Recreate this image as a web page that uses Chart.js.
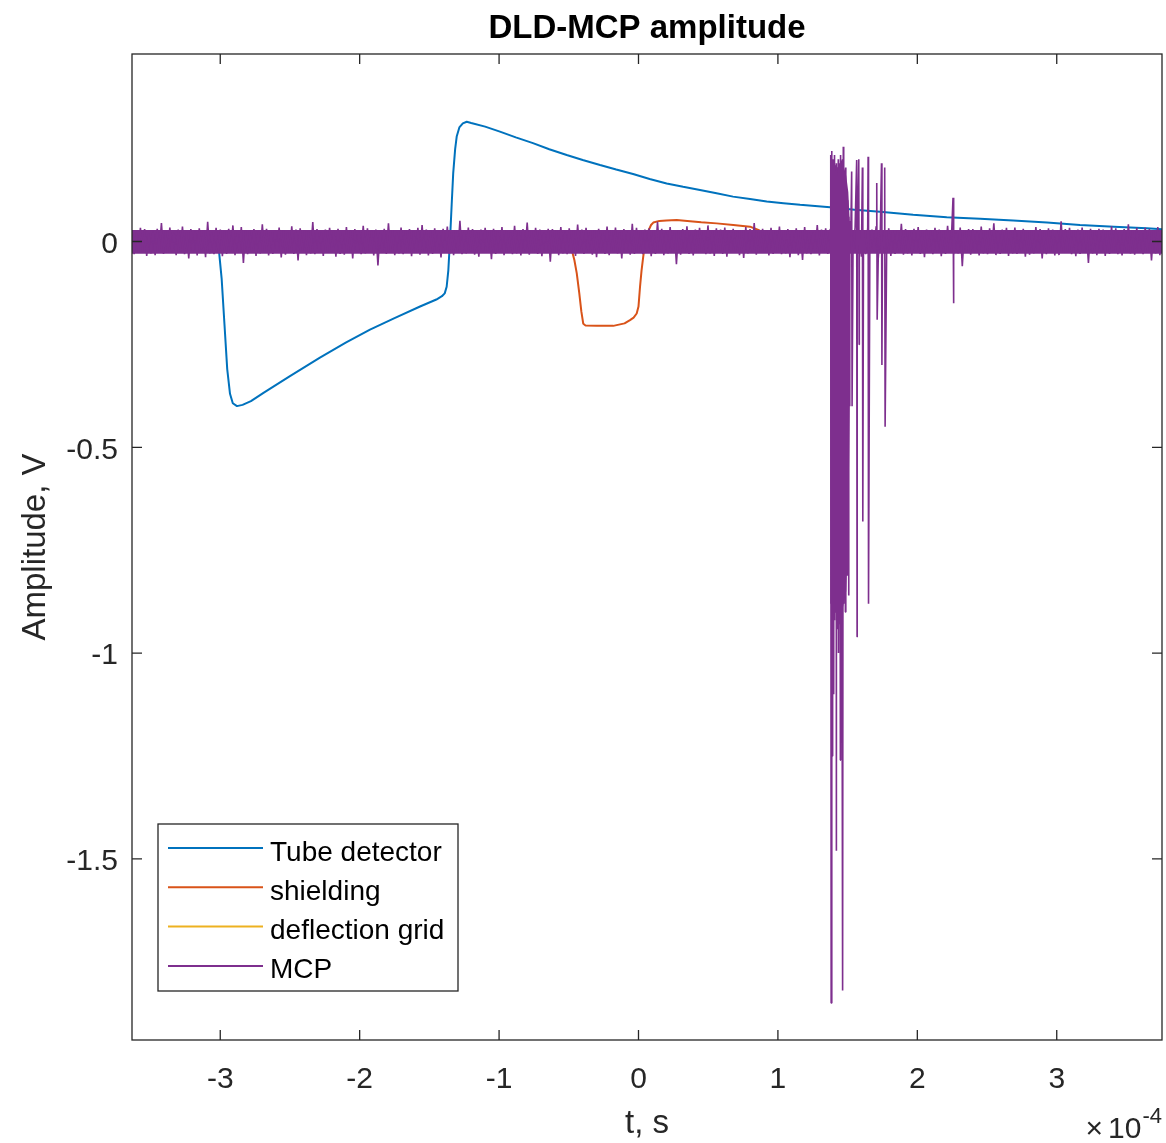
<!DOCTYPE html>
<html>
<head>
<meta charset="utf-8">
<title>DLD-MCP amplitude</title>
<script src="https://cdn.jsdelivr.net/npm/chart.js@4.4.1/dist/chart.umd.min.js"></script>
<style>
  html, body { margin: 0; padding: 0; background: #fff; }
  #wrap { width: 1166px; height: 1143px; }
</style>
</head>
<body>
<div id="wrap"><canvas id="chart" width="1166" height="1143"></canvas></div>
<script>
// time axis is in units of 1e-4 s (the "x10^-4" multiplier), amplitude in V
const xTicks = [-3, -2, -1, 0, 1, 2, 3];
const yTicks = [-1.5, -1, -0.5, 0];
const seriesNames = ['Tube detector', 'shielding', 'deflection grid', 'MCP'];
const seriesColors = ['#0072BD', '#D95319', '#EDB120', '#7E2F8E'];

const tubeT = [-3.633, -3.03, -3.01, -2.99, -2.97, -2.95, -2.93, -2.91, -2.88, -2.84, -2.78, -2.69, -2.5, -2.285,
  -2.1, -1.926, -1.75, -1.567, -1.45, -1.41, -1.39, -1.376, -1.364, -1.352, -1.34, -1.329, -1.315, -1.304, -1.285,
  -1.26, -1.232, -1.2, -1.1, -0.994, -0.88, -0.757, -0.64, -0.515, -0.4, -0.276, -0.16, -0.039, 0.08, 0.202, 0.32,
  0.441, 0.56, 0.678, 0.8, 0.92, 1.04, 1.159, 1.374, 1.55, 1.732, 1.97, 2.211, 2.45, 2.687, 2.93, 3.167, 3.41, 3.646, 3.755];
const tubeV = [0, 0, -0.02, -0.09, -0.2, -0.31, -0.37, -0.393, -0.4, -0.397, -0.388, -0.368, -0.327, -0.282,
  -0.246, -0.214, -0.186, -0.158, -0.141, -0.133, -0.126, -0.11, -0.07, 0.004, 0.09, 0.166, 0.225, 0.255, 0.277,
  0.287, 0.291, 0.288, 0.279, 0.267, 0.253, 0.239, 0.224, 0.21, 0.198, 0.186, 0.175, 0.164, 0.152, 0.141, 0.133,
  0.125, 0.117, 0.109, 0.103, 0.097, 0.093, 0.089, 0.083, 0.077, 0.072, 0.065, 0.059, 0.055, 0.051, 0.046, 0.04, 0.036, 0.032, 0.03];

const shieldT = [-3.633, -0.5, -0.479, -0.46, -0.443, -0.425, -0.41, -0.396, -0.38, -0.3, -0.181, -0.1, -0.061,
  -0.035, -0.013, 0.0, 0.011, 0.022, 0.034, 0.05, 0.07, 0.09, 0.106, 0.15, 0.2, 0.274, 0.35, 0.45, 0.561, 0.68,
  0.8, 0.86, 0.92, 1.0, 3.755];
const shieldV = [0, 0, -0.02, -0.045, -0.077, -0.125, -0.17, -0.2, -0.204, -0.205, -0.205, -0.199, -0.191,
  -0.185, -0.175, -0.158, -0.11, -0.07, -0.037, 0.0, 0.025, 0.04, 0.046, 0.05, 0.051, 0.052, 0.05, 0.047, 0.044, 0.04,
  0.036, 0.028, 0.015, 0.003, 0];

const gridT = [-3.633, -0.5, 0.0, 3.755];
const gridV = [0.002, 0.004, 0.006, 0.002];

// MCP baseline noise, mV, sampled evenly from mcpStart to mcpEnd
const mcpStart = -3.633;
const mcpEnd = 3.755;
const mcpNoise_mV = [
  28,-31,22,-27,33,-24,30,-35,19,-29,26,-33,31,-22,45,-30,24,-28,34,-26,
  21,-33,29,-25,36,-31,23,-41,30,-27,25,-34,32,-20,27,-38,48,-29,22,-31,
  33,-26,29,-36,24,-30,31,-24,39,-33,20,-28,35,-52,27,-31,26,-23,30,-35,
  25,-29,42,-27,31,-34,23,-30,28,-25,34,-39,26,-32,21,-28,37,-30,29,-46,
  32,-23,27,-33,24,-29,47,-31,30,-26,22,-35,29,-27,33,-24,26,-37,31,-30,
  23,-32,35,-28,27,-41,30,-25,24,-31,38,-29,32,-23,26,-34,29,-58,25,-27,
  31,-30,44,-26,28,-33,22,-29,34,-31,27,-24,30,-36,25,-28,33,-32,40,-25,
  29,-34,26,-30,32,-23,24,-39,31,-27,36,-30,23,-33,28,-26,50,-31,27,-29,
  34,-25,30,-32,21,-37,29,-28,33,-24,26,-43,31,-30,24,-27,35,-33,28,-26,
  22,-31,38,-29,27,-34,30,-25,46,-32,25,-28,33,-30,29,-36,23,-27,31,-49,
  30,-26,28,-33,35,-29,24,-31,32,-27,26,-35,41,-24,29,-30,33,-28,25,-32,
  27,-38,31,-25,23,-30,36,-33,28,-26,34,-29,22,-41,30,-27,26,-32,43,-30,
  33,-28,25,-31,29,-24,32,-36,27,-30,48,-25,31,-33,24,-29,35,-27,28,-55,
  26,-32,30,-27,37,-30,23,-34,29,-28,33,-26,25,-31,39,-29,27,-35,32,-24,
  29,-30,34,-37,26,-28,31,-25,24,-33,28,-40,35,-29,30,-26,45,-32,23,-28,
  31,-27,26,-34,33,-30,28,-24,36,-31,25,-29,30,-38,27,-26,32,-33,24,-45,
  35,-29,27,-31,23,-28,40,-34,29,-25,32,-30,26,-36,31,-27,28,-32,47,-30,
  24,-33,30,-26,34,-29,27,-37,25,-31,33,-28,29,-24,36,-42,28,-30,25,-27,
  32,-35,28,-30,26,-27,43,-32,30,-29,24,-34,31,-26,35,-30,27,-38,29,-25,
  26,-31,33,-28,29,-36,25,-30,38,-27,31,-33,23,-29,34,-60,28,-26,30,-32,
  30,-28,24,-34,36,-29,27,-31,32,-25,44,-33,26,-30,29,-27,33,-35,25,-29,
  34,-30,28,-26,31,-37,23,-32,27,-29,35,-28,30,-41,26,-31,32,-27,29,-34,
  27,-33,49,-28,30,-25,33,-31,26,-36,29,-30,34,-27,24,-52,31,-29,28,-33,
  31,-26,29,-35,25,-30,37,-28,32,-31,27,-34,30,-25,42,-29,26,-32,33,-28,
  28,-31,33,-27,30,-46,26,-29,35,-33,24
];

// MCP discharge burst and single spikes, V
const burstT = [1.376, 1.379, 1.382, 1.385, 1.388, 1.391, 1.394, 1.397, 1.4, 1.403, 1.406, 1.409, 1.412, 1.415,
  1.418, 1.421, 1.424, 1.427, 1.43, 1.433, 1.436, 1.439, 1.442, 1.445, 1.448, 1.451, 1.454, 1.457, 1.46, 1.463,
  1.466, 1.469, 1.472, 1.475, 1.478, 1.481, 1.484, 1.487, 1.49, 1.493, 1.496, 1.499, 1.502, 1.505, 1.508, 1.511,
  1.514, 1.517,
  1.529, 1.532, 1.565, 1.568, 1.58, 1.583, 1.606, 1.609, 1.647, 1.65, 1.709, 1.712, 1.743, 1.746, 1.766, 1.769,
  2.256, 2.259];
const burstV = [0.03, 0.21, -1.85, 0.22, -1.25, 0.19, -0.95, 0.2, -1.1, 0.18, -0.92, 0.21, -0.9, 0.17,
  -1.48, 0.19, -0.94, 0.16, -0.88, 0.2, -1.0, 0.18, -0.93, 0.19, -1.26, 0.21, -0.9, 0.18, -0.95, 0.2,
  -1.82, 0.23, -0.88, 0.17, -0.85, 0.16, -0.9, 0.18, -0.65, 0.12, -0.81, 0.1, -0.55, 0.06, -0.86, 0.05,
  -0.4, 0.03,
  0.17, -0.4, 0.198, -0.96, 0.2, -0.25, 0.18, -0.68, 0.206, -0.88, 0.142, -0.19, 0.19, -0.3, 0.18, -0.45,
  0.106, -0.15];

// dense core of the MCP trace (envelope that is fully inked in the picture), V
const coreT  = [-3.633, 1.374, 1.377, 1.38, 1.4, 1.43, 1.46, 1.49, 1.505, 1.515, 1.518, 3.755];
const coreHi = [0.028, 0.028, 0.15, 0.17, 0.19, 0.18, 0.2, 0.16, 0.12, 0.05, 0.028, 0.028];
const coreLo = [-0.03, -0.03, -0.8, -0.88, -0.9, -0.88, -0.9, -0.85, -0.7, -0.4, -0.03, -0.03];

const pairs = (ts, vs) => ts.map((t, i) => ({ x: t, y: vs[i] }));

const dt = (mcpEnd - mcpStart) / (mcpNoise_mV.length - 1);
const mcpData = mcpNoise_mV.map((v, i) => ({ x: mcpStart + i * dt, y: v / 1000 }))
  .concat(pairs(burstT, burstV))
  .sort((a, b) => a.x - b.x);

const FONT = '"Liberation Sans", Arial, Helvetica, sans-serif';
const INK = '#262626';

// box, inward ticks on all four sides, legend, title and labels (MATLAB look)
const matlabAxes = {
  id: 'matlabAxes',
  afterDatasetsDraw(chart) {
    const { ctx, chartArea: a, scales: { x, y } } = chart;
    ctx.save();
    ctx.strokeStyle = INK;
    ctx.lineWidth = 1.3;
    ctx.strokeRect(a.left, a.top, a.right - a.left, a.bottom - a.top);
    ctx.beginPath();
    xTicks.forEach(v => {
      const px = x.getPixelForValue(v);
      ctx.moveTo(px, a.bottom); ctx.lineTo(px, a.bottom - 10);
      ctx.moveTo(px, a.top); ctx.lineTo(px, a.top + 10);
    });
    yTicks.forEach(v => {
      const py = y.getPixelForValue(v);
      ctx.moveTo(a.left, py); ctx.lineTo(a.left + 10, py);
      ctx.moveTo(a.right, py); ctx.lineTo(a.right - 10, py);
    });
    ctx.stroke();

    // legend, lower left inside the axes
    const lx = a.left + 26, ly = a.bottom - 216, lw = 300, lh = 167;
    ctx.fillStyle = '#fff';
    ctx.fillRect(lx, ly, lw, lh);
    ctx.lineWidth = 1.3;
    ctx.strokeStyle = INK;
    ctx.strokeRect(lx, ly, lw, lh);
    ctx.font = '28px ' + FONT;
    ctx.textBaseline = 'alphabetic';
    ctx.textAlign = 'left';
    chart.data.datasets.slice(0, seriesNames.length).forEach((ds, i) => {
      const ry = ly + 24 + i * 39.3;
      ctx.strokeStyle = ds.borderColor;
      ctx.lineWidth = 2;
      ctx.beginPath();
      ctx.moveTo(lx + 10, ry); ctx.lineTo(lx + 105, ry);
      ctx.stroke();
      ctx.fillStyle = '#000';
      ctx.fillText(ds.label, lx + 112, ry + 12.5);
    });
    ctx.restore();
  },
  afterDraw(chart) {
    const { ctx, chartArea: a } = chart;
    const cx = (a.left + a.right) / 2;
    ctx.save();
    ctx.fillStyle = '#000';
    ctx.textAlign = 'center';
    ctx.textBaseline = 'alphabetic';
    ctx.font = 'bold 33px ' + FONT;
    ctx.fillText('DLD-MCP amplitude', cx, 38);

    ctx.fillStyle = INK;
    ctx.font = '33px ' + FONT;
    ctx.fillText('t, s', cx, 1133);

    ctx.save();
    ctx.translate(45, (a.top + a.bottom) / 2);
    ctx.rotate(-Math.PI / 2);
    ctx.fillText('Amplitude, V', 0, 0);
    ctx.restore();

    // exponent multiplier for the time axis
    ctx.textAlign = 'left';
    ctx.font = '30px ' + FONT;
    const wTen = ctx.measureText('10').width;
    ctx.font = '22px ' + FONT;
    const wExp = ctx.measureText('-4').width;
    let xr = a.right - wExp;
    ctx.fillText('-4', xr, 1123);
    ctx.font = '30px ' + FONT;
    xr -= wTen + 1;
    ctx.fillText('10', xr, 1138);
    const wx = ctx.measureText('\u00d7').width;
    ctx.fillText('\u00d7', xr - wx - 5, 1138);
    ctx.restore();
  }
};

const hidden = 'rgba(0,0,0,0)';

new Chart(document.getElementById('chart'), {
  type: 'line',
  data: {
    datasets: [
      { label: seriesNames[0], data: pairs(tubeT, tubeV), borderColor: seriesColors[0], borderWidth: 2, order: 5 },
      { label: seriesNames[1], data: pairs(shieldT, shieldV), borderColor: seriesColors[1], borderWidth: 2, order: 4 },
      { label: seriesNames[2], data: pairs(gridT, gridV), borderColor: seriesColors[2], borderWidth: 2, order: 3 },
      { label: seriesNames[3], data: mcpData, borderColor: seriesColors[3], borderWidth: 1.6, order: 0 },
      { label: 'MCP core', data: pairs(coreT, coreHi), borderColor: hidden, borderWidth: 1,
        fill: '+1', backgroundColor: seriesColors[3], order: 1 },
      { label: 'MCP core low', data: pairs(coreT, coreLo), borderColor: hidden, borderWidth: 1, order: 2 }
    ]
  },
  options: {
    responsive: false,
    animation: false,
    events: [],
    elements: {
      point: { radius: 0 },
      line: { tension: 0, borderJoinStyle: 'bevel' }
    },
    layout: { padding: { top: 54, right: 4, left: 0, bottom: 0 } },
    plugins: {
      legend: { display: false },
      tooltip: { enabled: false },
      title: { display: false },
      filler: { propagate: false }
    },
    scales: {
      x: {
        type: 'linear',
        min: -3.633,
        max: 3.755,
        afterBuildTicks: s => { s.ticks = xTicks.map(v => ({ value: v })); },
        afterFit: s => { s.height = 103; },
        grid: { display: false, drawTicks: false },
        border: { display: false },
        ticks: {
          autoSkip: false, maxRotation: 0, padding: 22, color: INK,
          font: { family: FONT, size: 30 },
          callback: v => String(v)
        }
      },
      y: {
        type: 'linear',
        min: -1.94,
        max: 0.4555,
        afterBuildTicks: s => { s.ticks = yTicks.map(v => ({ value: v })); },
        afterFit: s => { s.width = 132; },
        grid: { display: false, drawTicks: false },
        border: { display: false },
        ticks: {
          autoSkip: false, padding: 14, labelOffset: 3, color: INK,
          font: { family: FONT, size: 30 },
          callback: v => String(v)
        }
      }
    }
  },
  plugins: [matlabAxes]
});
</script>
</body>
</html>
